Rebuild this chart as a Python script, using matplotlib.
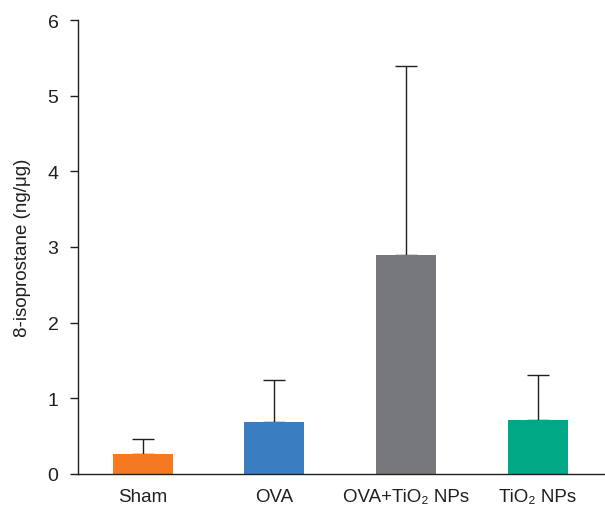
import matplotlib
matplotlib.use("Agg")
import matplotlib.pyplot as plt
import numpy as np

categories = ["Sham", "OVA", "OVA+TiO\u2082 NPs", "TiO\u2082 NPs"]
means = [0.26, 0.69, 2.89, 0.71]
errors = [0.20, 0.55, 2.50, 0.60]
colors = ["#F47920", "#3A7EC1", "#77787B", "#00A886"]
yticks = [0, 1, 2, 3, 4, 5, 6]
ylabel = "8-isoprostane (ng/\u03bcg)"

plt.rcParams['font.family'] = ['Liberation Sans Narrow', 'Liberation Sans', 'DejaVu Sans']

fig = plt.figure(figsize=(6.05, 5.10), dpi=100)
ax = fig.add_axes([78/605, 35/510, 1 - 78/605, (475-21)/510])

x = np.arange(len(categories))
ax.bar(x, means, width=0.455, color=colors, zorder=2)
ax.errorbar(x, means, yerr=[np.zeros(len(errors)), errors], fmt='none',
            ecolor='#231F20', elinewidth=1.0, capsize=8, capthick=1.0, zorder=1)

ax.set_xlim(-0.49, 3.51)
ax.set_ylim(0, 6)
ax.set_yticks(yticks)
ax.set_xticks(x)
ax.set_xticklabels(categories, fontsize=13.5, color='#231F20')
ax.tick_params(axis='y', labelsize=14, colors='#231F20', length=6, width=1, direction='out', pad=8)
ax.tick_params(axis='x', length=0, pad=10)
for s in ['top', 'right']:
    ax.spines[s].set_visible(False)
for s in ['left', 'bottom']:
    ax.spines[s].set_color('#231F20')
    ax.spines[s].set_linewidth(1)
ax.set_ylabel(ylabel, fontsize=13.5, color='#231F20', labelpad=12)

fig.savefig("out.png", dpi=100)
